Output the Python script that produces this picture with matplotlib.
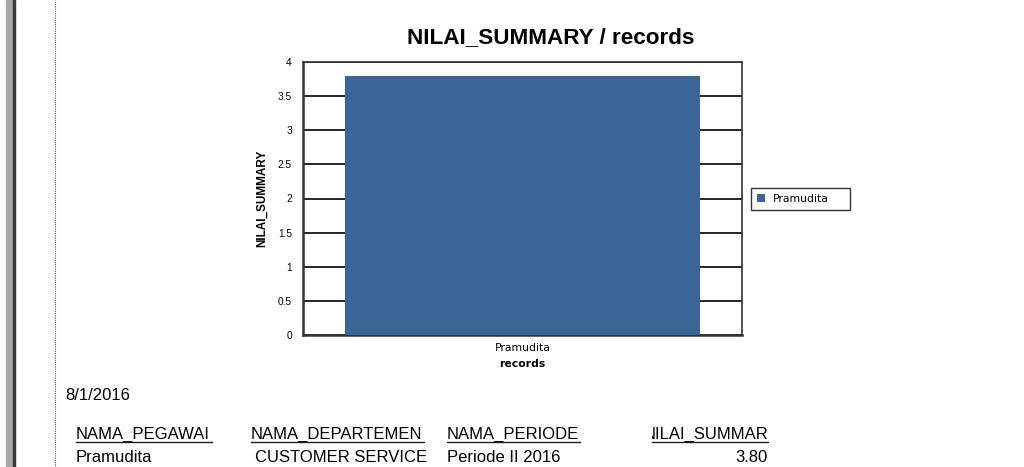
import matplotlib
matplotlib.use("Agg")
import matplotlib.pyplot as plt
from matplotlib.transforms import Bbox
from matplotlib.patches import Rectangle
from matplotlib.lines import Line2D

plt.rcParams['font.family'] = ['Liberation Sans', 'DejaVu Sans']

# data
categories = ["Pramudita"]
nilai = [3.80]
yticks = [0, 0.5, 1, 1.5, 2, 2.5, 3, 3.5, 4]
ytick_labels = ["0", "0.5", "1", "1.5", "2", "2.5", "3", "3.5", "4"]
report_date = "8/1/2016"
headers = ["NAMA_PEGAWAI", "NAMA_DEPARTEMEN", "NAMA_PERIODE", "NILAI_SUMMARY"]
row = ["Pramudita", "CUSTOMER SERVICE", "Periode II 2016", "3.80"]

W, H = 1024, 467
fig = plt.figure(figsize=(W / 100, H / 100), dpi=100)


def fx(px):
    return px / W


def fy(py):
    return 1 - py / H


# page decoration on the left
fig.patches.append(Rectangle((fx(6), 0), fx(6), 1, transform=fig.transFigure,
                             color="#a8a8a8", zorder=0))
fig.patches.append(Rectangle((fx(12.5), 0), fx(2), 1, transform=fig.transFigure,
                             color="#3a3a3a", zorder=0))
fig.lines.append(Line2D([fx(55), fx(55)], [0, 1], transform=fig.transFigure,
                        color="#555555", lw=0.8, ls=(0, (1, 1))))

# chart
small = ['DejaVu Sans']
ax = fig.add_axes([fx(303), fy(335), fx(439), 273 / H])
ax.bar(range(len(categories)), nilai, width=0.81, color="#3a6597",
       label=categories[0], zorder=3)
ax.set_xlim(-0.5, len(categories) - 0.5)
ax.set_ylim(0, 4)
ax.set_yticks(yticks)
ax.set_yticklabels(ytick_labels, fontsize=7.3)
ax.set_xticks(range(len(categories)))
ax.set_xticklabels(categories, fontsize=7.8, family=small)
ax.tick_params(axis="y", length=0, pad=8)
ax.tick_params(axis="x", length=0, pad=6)
ax.grid(axis="y", color="black", lw=1.2, zorder=1)
for s in ax.spines.values():
    s.set_color("#333333")
    s.set_linewidth(1.2)
ax.spines["left"].set_linewidth(1.8)
ax.spines["bottom"].set_linewidth(1.8)
ax.set_ylabel("NILAI_SUMMARY", fontsize=8.5, fontweight="bold", labelpad=7)
ax.set_xlabel("records", fontsize=7.8, fontweight="bold", labelpad=4, family=small)

fig.text(fx(551), fy(38), "NILAI_SUMMARY / records", fontsize=16.2,
         fontweight="bold", ha="center", va="center")

leg = ax.legend(loc="center left", mode="expand",
                bbox_to_anchor=(fx(751), fy(212), fx(99), 26 / H),
                bbox_transform=fig.transFigure,
                prop={'family': small, 'size': 7.8}, frameon=True, fancybox=False,
                handlelength=0.75, handleheight=0.75, borderpad=0.55,
                handletextpad=0.7, borderaxespad=0)
leg.get_frame().set_edgecolor("black")
leg.get_frame().set_linewidth(1.0)

# report text below the chart
FS = 12
fig.text(fx(65), fy(396), report_date, fontsize=FS, va="center")

renderer = fig.canvas.get_renderer()
probe = fig.text(0, 0, "NILAI_SUMMAR", fontsize=FS)
w_probe = probe.get_window_extent(renderer).width
probe.remove()

hdr_x = [76, 251, 447, 768 - w_probe]
hdr_start = [76, 251, 447, 652]
hdr_end = [212, 424, 580, 768]
clips = [None, (0, 424), None, (652, 768)]
for i, h in enumerate(headers):
    t = fig.text(fx(hdr_x[i]), fy(434), h, fontsize=FS, va="center")
    if clips[i]:
        t.set_clip_box(Bbox.from_extents(clips[i][0], 0, clips[i][1], H))
        t.set_clip_on(True)
    fig.lines.append(Line2D([fx(hdr_start[i]), fx(hdr_end[i])], [fy(441.5), fy(441.5)],
                            transform=fig.transFigure, color="#222222", lw=1.0))

fig.text(fx(76), fy(457), row[0], fontsize=FS, va="center")
fig.text(fx(427), fy(457), row[1], fontsize=FS, va="center", ha="right")
fig.text(fx(447), fy(457), row[2], fontsize=FS, va="center")
fig.text(fx(768), fy(457), row[3], fontsize=FS, va="center", ha="right")

fig.savefig("out.png", dpi=100)
